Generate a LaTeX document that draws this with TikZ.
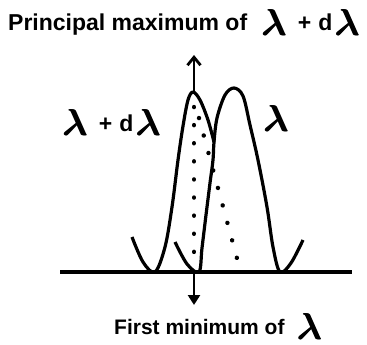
\documentclass[tikz,border=0pt]{standalone}
\usepackage{fontspec}
\usepackage{amsmath}
\setmainfont{Liberation Sans}
\usetikzlibrary{arrows.meta}
\newcommand\lamglyph{\scalebox{1.5}{\fontsize{24}{24}\selectfont$\boldsymbol{\lambda}$}}
\newcommand\lam{\raisebox{-5pt}{\rlap{\kern0.6pt\lamglyph}\lamglyph\kern0.6pt}}
\begin{document}
\begin{tikzpicture}[x=1pt,y=-1pt]
\tikzstyle{curve}=[draw,line width=3.2pt,line join=round]
\tikzstyle{dots}=[draw,line width=4.4pt,line cap=round,dash pattern=on 0.1pt off 18pt]
\tikzstyle{lab}=[inner sep=0pt,font=\bfseries\fontsize{23}{23}\selectfont]
\useasboundingbox (0,0) rectangle (367,345);
% axis
\coordinate (axl) at (60,272);
\coordinate (axr) at (352,272);
\path[curve](axl)--(axr);
% lambda + d lambda
\path[curve]plot[smooth,tension=0.55]coordinates{(132,237)(143,262)(155,272)(165,247)(172,207)(178,160)(183,126)(188,100)(193,92)(200,100)(208,120)(214,142)};
\path[dots](199,118)--(238,262);
% lambda
\path[curve]plot[smooth,tension=0.55]coordinates{(175,242)(187,264)(199,272)(202,248)(206,215)(210,183)(213,160)(214,142)(217,118)(225,95)(234,88)(243,96)(250,125)(258,160)(267,207)(273,247)(280,272)(291,263)(303,240)};
% positions
\coordinate (peak) at (194,92);
\coordinate (tip) at (194,55);
\coordinate (zero) at (194,272);
\coordinate (end) at (194,305);
\path[dots](194,107)--(194,262);
\path[draw,line width=2.8pt,-{Straight Barb[length=8pt,width=13pt]}](peak)--(tip);
\path[draw,line width=2.8pt,-{Triangle[length=10pt,width=12pt]}](zero)--(end);
% labels
\node[lab,anchor=base west](title)at(8,31){Principal maximum of\hspace{14pt}\lam\hspace{11pt}+\hspace{7pt}d\hspace{2pt}\lam};
\node[lab,anchor=base west](left)at(62,131){\lam\hspace{11pt}+\hspace{7pt}d\hspace{2pt}\lam};
\node[lab,anchor=base west](right)at(263,127){\lam};
\node[lab,anchor=base west,font=\bfseries\fontsize{21}{21}\selectfont](bottom)at(114,334){First minimum of\hspace{12pt}\lam};
\end{tikzpicture}
\end{document}
